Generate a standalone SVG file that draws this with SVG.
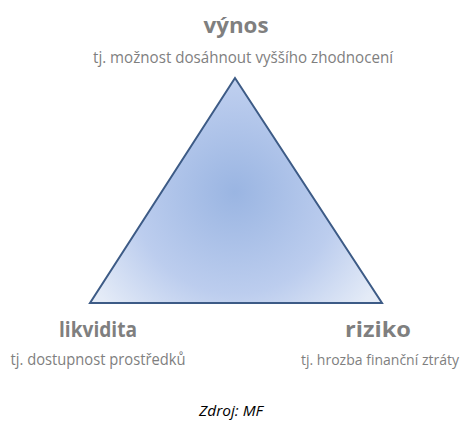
<svg xmlns="http://www.w3.org/2000/svg" width="469" height="429" viewBox="0 0 469 429">
<defs>
<radialGradient id="g" gradientUnits="userSpaceOnUse" cx="235" cy="192" r="170">
<stop offset="0" stop-color="#9ab5e2"/>
<stop offset="0.6" stop-color="#bccdee"/>
<stop offset="1" stop-color="#e4ebf7"/>
</radialGradient>
<style>
.t{font-family:"Open Sans","Liberation Sans",sans-serif;fill:#7f7f7f;text-anchor:middle}
.h{font-size:22px;font-weight:bold}
.s{font-size:16px}
.r{font-size:15px}
.z{font-family:"Open Sans","Liberation Sans",sans-serif;font-style:italic;font-size:15px;fill:#000;text-anchor:middle}
</style>
</defs>
<rect width="469" height="429" fill="#fff"/>
<g id="triangle">
<polygon points="235,78 90,303 382,303" fill="url(#g)" stroke="#3d5b86" stroke-width="2" stroke-linejoin="miter"/>
</g>
<g id="vynos">
<text class="t h" x="236" y="33" textLength="65" lengthAdjust="spacingAndGlyphs">výnos</text>
<text class="t s" x="243" y="63" textLength="300" lengthAdjust="spacingAndGlyphs">tj. možnost dosáhnout vyššího zhodnocení</text>
</g>
<g id="likvidita">
<text class="t h" x="98" y="337" textLength="78" lengthAdjust="spacingAndGlyphs">likvidita</text>
<text class="t s" x="98" y="365" textLength="175" lengthAdjust="spacingAndGlyphs">tj. dostupnost prostředků</text>
</g>
<g id="riziko">
<text class="t h" x="378" y="337" textLength="66" lengthAdjust="spacingAndGlyphs">riziko</text>
<text class="t r" x="380" y="365" textLength="158" lengthAdjust="spacingAndGlyphs">tj. hrozba finanční ztráty</text>
</g>
<g id="zdroj">
<text class="z" x="231" y="416" textLength="64" lengthAdjust="spacingAndGlyphs">Zdroj: MF</text>
</g>
<g id="connectors"/>
</svg>
